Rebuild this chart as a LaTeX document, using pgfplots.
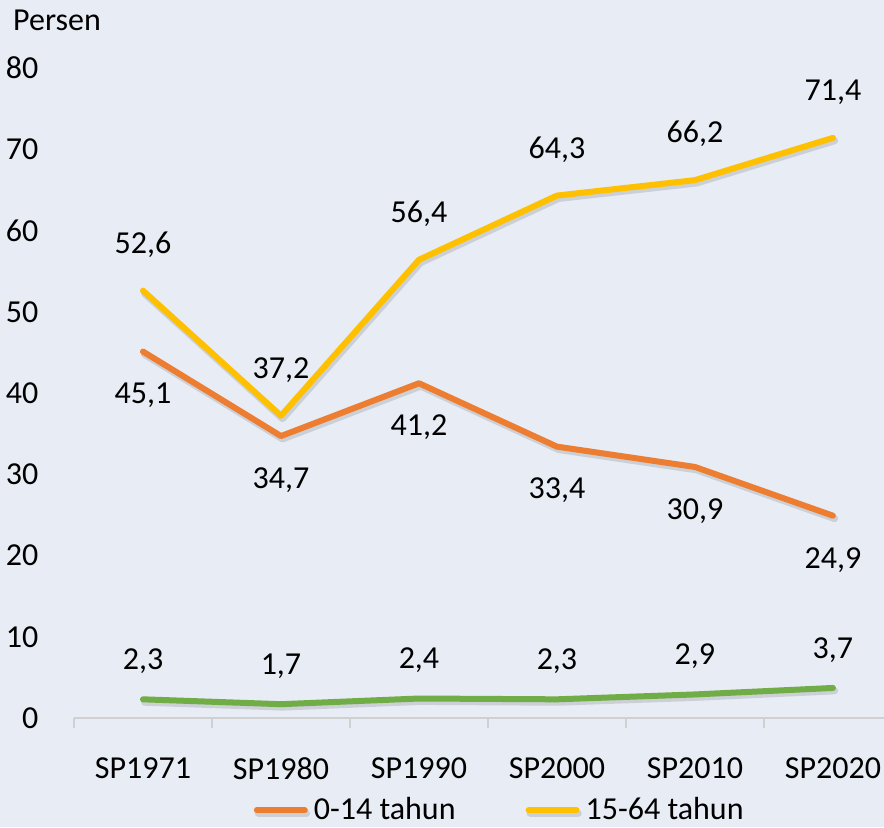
\documentclass[border=0pt]{standalone}
\usepackage{pgfplots}
\pgfplotsset{compat=1.18}
\usepackage{fontspec}
\setmainfont{Carlito}
\definecolor{bgcol}{HTML}{E8ECF4}
\definecolor{c014}{HTML}{ED7D31}
\definecolor{c1564}{HTML}{FFC000}
\definecolor{c65}{HTML}{70AD47}
\definecolor{axgray}{HTML}{D0D0D0}
\begin{document}
\begin{tikzpicture}
\fill[bgcol, use as bounding box] (-37pt,-54.5pt) rectangle (405pt,359pt);
\begin{axis}[
  at={(0,0)}, anchor=south west,
  scale only axis, width=405pt, height=325pt,
  xmin=-0.5, xmax=5.37, ymin=0, ymax=80,
  clip=false,
  axis lines*=left,
  x axis line style={draw=axgray, line width=0.8pt, -},
  y axis line style={draw=none},
  xtick={0,...,5},
  xticklabels={SP1971,SP1980,SP1990,SP2000,SP2010,SP2020},
  major x tick style={draw=none},
  minor xtick={-0.5,0.5,1.5,2.5,3.5,4.5},
  minor x tick style={draw=axgray, line width=0.8pt},
  minor tick length=5pt,
  tick align=outside,
  ytick={0,10,...,80},
  ytick style={draw=none},
  font=\fontsize{16}{19}\selectfont,
  every tick label/.append style={font=\fontsize{16}{19}\selectfont},
  /pgf/number format/assume math mode=true,
  xticklabel style={yshift=-12pt},
  yticklabel style={anchor=east, xshift=-10pt},
  nodes near coords={\pgfmathprintnumber[fixed,fixed zerofill,precision=1,use comma]{\pgfplotspointmeta}},
  legend style={draw=none, fill=none, at={(0.222,-0.142)}, anchor=west,
    font=\fontsize{16}{19}\selectfont, inner sep=0pt, outer sep=0pt},
  legend columns=2,
  legend cell align=left,
  /tikz/every odd column/.append style={column sep=1pt},
  /tikz/every even column/.append style={column sep=33pt},
  legend image code/.code={\draw[#1, line width=3pt, line cap=round] (0pt,0pt) -- (24pt,0pt);},
  every axis plot/.append style={line width=3pt, line cap=round, line join=round},
  shadowed/.style={preaction={draw=black, draw opacity=0.12, line width=3.6pt,
     transform canvas={xshift=0.8pt, yshift=-1.4pt}}},
]
\addplot[c65, shadowed, forget plot,
  nodes near coords style={anchor=center, yshift=19pt, text=black}]
  coordinates {(0,2.3) (1,1.7) (2,2.4) (3,2.3) (4,2.9) (5,3.7)};
\addplot[c014, shadowed,
  nodes near coords style={anchor=center, yshift=-22pt, text=black}]
  coordinates {(0,45.1) (1,34.7) (2,41.2) (3,33.4) (4,30.9) (5,24.9)};
\addlegendentry{0-14 tahun}
\addplot[c1564, shadowed,
  nodes near coords style={anchor=center, yshift=23pt, text=black}]
  coordinates {(0,52.6) (1,37.2) (2,56.4) (3,64.3) (4,66.2) (5,71.4)};
\addlegendentry{15-64 tahun}
\end{axis}
\node[font=\fontsize{16}{19}\selectfont] at (-8.5pt,349pt) {Persen};
\end{tikzpicture}
\end{document}
